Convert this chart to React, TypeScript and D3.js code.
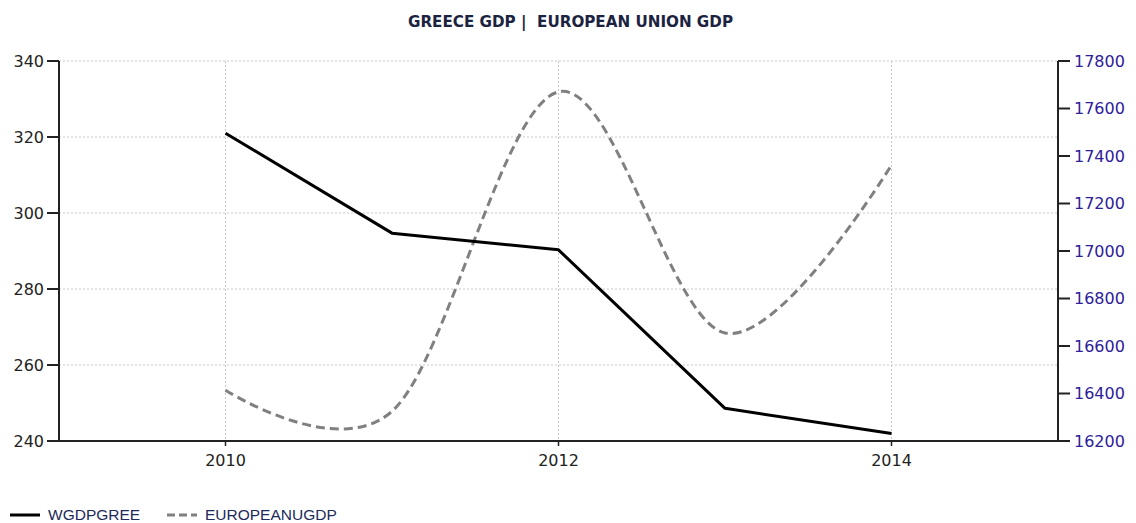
import React from "react";
import * as d3 from "d3";

const years = [2010, 2011, 2012, 2013, 2014];
const greeceGdp = [321.0, 294.7, 290.3, 248.6, 242.0];
const euGdp = [16414, 16325, 17670, 16655, 17362];
const leftTicks = [240, 260, 280, 300, 320, 340];
const rightTicks = [16200, 16400, 16600, 16800, 17000, 17200, 17400, 17600, 17800];
const xTicks = [2010, 2012, 2014];
const title = "GREECE GDP |  EUROPEAN UNION GDP";
const legendNames = ["WGDPGREE", "EUROPEANUGDP"];

const W = 1136;
const H = 523;
const M = { left: 59, right: 1058, top: 61, bottom: 441 };

export default function App() {
  const x = d3.scaleLinear().domain([2009, 2015]).range([M.left, M.right]);
  const yL = d3.scaleLinear().domain([240, 340]).range([M.bottom, M.top]);
  const yR = d3.scaleLinear().domain([16200, 17800]).range([M.bottom, M.top]);

  const greeceLine = d3
    .line<number>()
    .x((_, i) => x(years[i]))
    .y((d) => yL(d))(greeceGdp) as string;
  const euLine = d3
    .line<number>()
    .x((_, i) => x(years[i]))
    .y((d) => yR(d))
    .curve(d3.curveCardinal.tension(0))(euGdp) as string;

  const tickFont = "'DejaVu Sans', Verdana, sans-serif";
  const axisColor = "#222";
  const gridColor = "#c8c8c8";

  return (
    <svg
      width={W}
      height={H}
      style={{ position: "absolute", left: 0, top: 0, background: "#fff" }}
      xmlns="http://www.w3.org/2000/svg"
    >
      <rect x={0} y={0} width={W} height={H} fill="#fff" />
      <text
        x={408}
        y={27}
        textAnchor="start"
        fontFamily="'DejaVu Sans Condensed', 'DejaVu Sans', sans-serif"
        fontSize={16}
        fontWeight={600}
        fill="#1c2340"
        textLength={325}
        lengthAdjust="spacingAndGlyphs"
        style={{ whiteSpace: "pre" }}
      >
        {title}
      </text>

      {/* grid */}
      {leftTicks.filter((t) => t !== 240).map((t) => (
        <line
          key={"hg" + t}
          x1={M.left}
          x2={M.right}
          y1={yL(t)}
          y2={yL(t)}
          stroke={gridColor}
          strokeWidth={1}
          strokeDasharray="2,2"
        />
      ))}
      {xTicks.map((t) => (
        <line
          key={"vg" + t}
          x1={x(t)}
          x2={x(t)}
          y1={M.top}
          y2={M.bottom}
          stroke={gridColor}
          strokeWidth={1}
          strokeDasharray="2,2"
        />
      ))}

      {/* series */}
      <path d={euLine} fill="none" stroke="#808080" strokeWidth={3} strokeDasharray="9,5" />
      <path d={greeceLine} fill="none" stroke="#000" strokeWidth={3} strokeLinejoin="round" />

      {/* left axis */}
      <line x1={M.left} x2={M.left} y1={M.top} y2={M.bottom} stroke={axisColor} strokeWidth={2} />
      {leftTicks.map((t) => (
        <g key={"lt" + t}>
          <line x1={M.left - 12} x2={M.left} y1={yL(t)} y2={yL(t)} stroke={axisColor} strokeWidth={2} />
          <text
            x={M.left - 15}
            y={yL(t)}
            dy="0.36em"
            textAnchor="end"
            fontFamily={tickFont}
            fontSize={16}
            fill="#222"
          >
            {t}
          </text>
        </g>
      ))}

      {/* right axis */}
      <line x1={M.right} x2={M.right} y1={M.top} y2={M.bottom} stroke={axisColor} strokeWidth={2} />
      {rightTicks.map((t) => (
        <g key={"rt" + t}>
          <line x1={M.right} x2={M.right + 12} y1={yR(t)} y2={yR(t)} stroke={axisColor} strokeWidth={2} />
          <text
            x={M.right + 16}
            y={yR(t)}
            dy="0.36em"
            textAnchor="start"
            fontFamily={tickFont}
            fontSize={16}
            fill="#2e2099"
          >
            {t}
          </text>
        </g>
      ))}

      {/* bottom axis */}
      <line x1={M.left} x2={M.right} y1={M.bottom} y2={M.bottom} stroke={axisColor} strokeWidth={2} />
      {xTicks.map((t) => (
        <g key={"xt" + t}>
          <line x1={x(t)} x2={x(t)} y1={M.bottom} y2={M.bottom + 5} stroke={axisColor} strokeWidth={1.5} />
          <text
            x={x(t)}
            y={M.bottom + 25}
            textAnchor="middle"
            fontFamily={tickFont}
            fontSize={16}
            fill="#222"
          >
            {t}
          </text>
        </g>
      ))}

      {/* legend */}
      <line x1={10} x2={40} y1={515} y2={515} stroke="#000" strokeWidth={3} />
      <text x={48} y={520} fontFamily="'Liberation Sans', Arial, sans-serif" fontSize={15.5} fill="#1e2a5a">
        {legendNames[0]}
      </text>
      <line x1={167} x2={197} y1={515} y2={515} stroke="#808080" strokeWidth={3} strokeDasharray="8,4" />
      <text x={205} y={520} fontFamily="'Liberation Sans', Arial, sans-serif" fontSize={15.5} fill="#1e2a5a">
        {legendNames[1]}
      </text>
    </svg>
  );
}
